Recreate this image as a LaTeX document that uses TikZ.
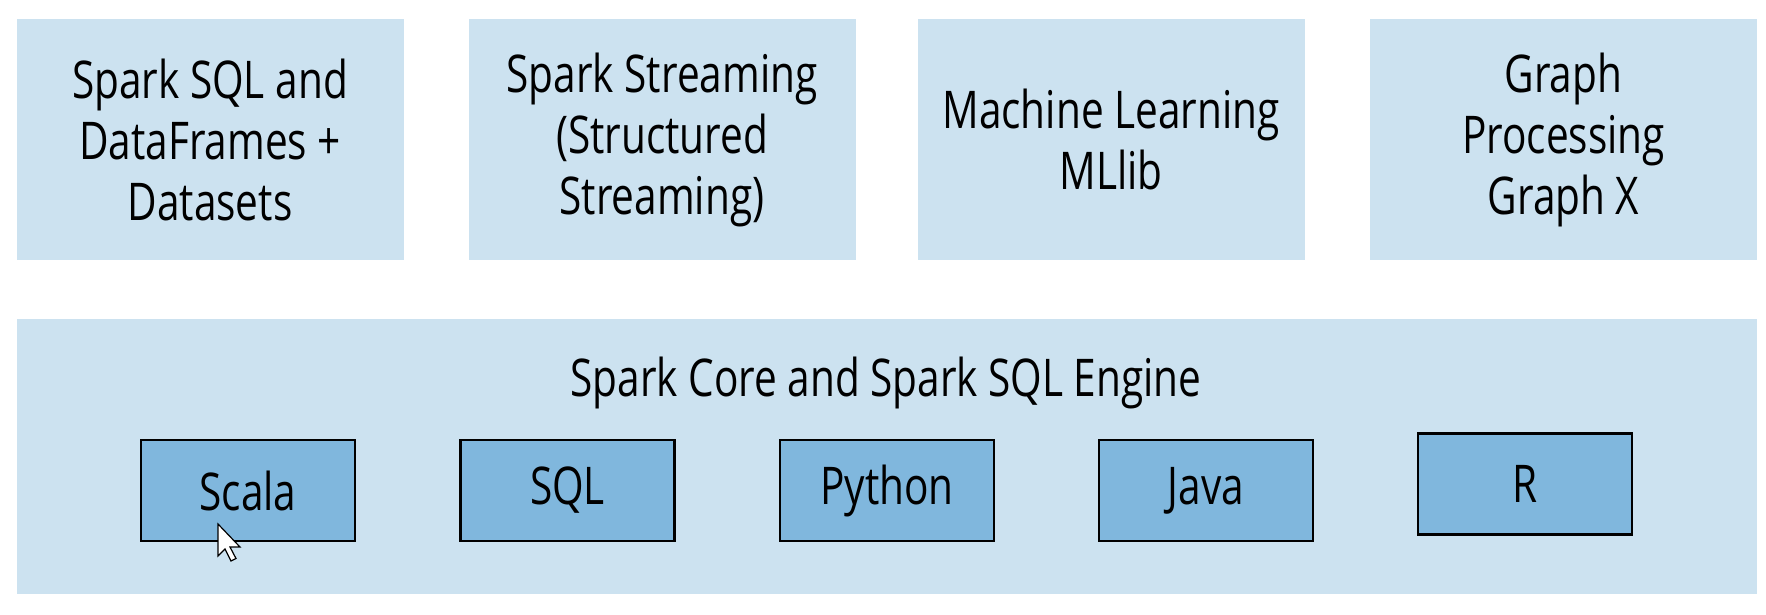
\documentclass[tikz,border=0pt]{standalone}
\usepackage{fontspec}
\setmainfont[FakeStretch=0.78]{Open Sans}
\definecolor{panelblue}{RGB}{204,226,240}
\definecolor{langblue}{RGB}{128,183,221}
\tikzset{
  layerbox/.style={rectangle, fill=panelblue, inner sep=0pt, align=center,
    minimum width=387, minimum height=240},
  langbox/.style={rectangle, fill=langblue, draw=black, line width=2.5pt,
    inner sep=0pt, minimum width=214, minimum height=101},
}
\begin{document}
\begin{tikzpicture}[x=1pt, y=-1pt, font=\fontsize{52}{61}\selectfont]
  \useasboundingbox (0,0) rectangle (1766,615);

  % top row: libraries
  \node[layerbox] (sql)    at (210,139.5)  {Spark SQL and\\DataFrames +\\Datasets};
  \node[layerbox] (stream) at (662,139.5)  {Spark Streaming\\(Structured\\Streaming)};
  \node[layerbox] (mllib)  at (1111,139.5) {Machine Learning\\MLlib};
  \node[layerbox] (graphx) at (1563.5,139.5) {Graph\\Processing\\Graph X};

  % engine
  \node[layerbox, minimum width=1740, minimum height=275] (core) at (887,456.5) {};
  \node[anchor=base] (coretitle) at (886,396) {Spark Core and Spark SQL Engine};

  % language boxes
  \node[langbox] (scala)  at (248,490.5)  {Scala};
  \node[langbox] (sqllang) at (567.5,490.5) {SQL};
  \node[langbox] (python) at (887,490.5)  {Python};
  \node[langbox] (java)   at (1206,490.5) {Java};
  \node[langbox] (rlang)  at (1525,484)   {R};

  % mouse pointer
  \draw[fill=white, line width=1.2pt, line join=miter]
    (218,524) -- ++(0,32) -- ++(7,-7) -- ++(6,12) -- ++(5,-2.5) -- ++(-6,-11.5) -- ++(10,0) -- cycle;
\end{tikzpicture}
\end{document}
